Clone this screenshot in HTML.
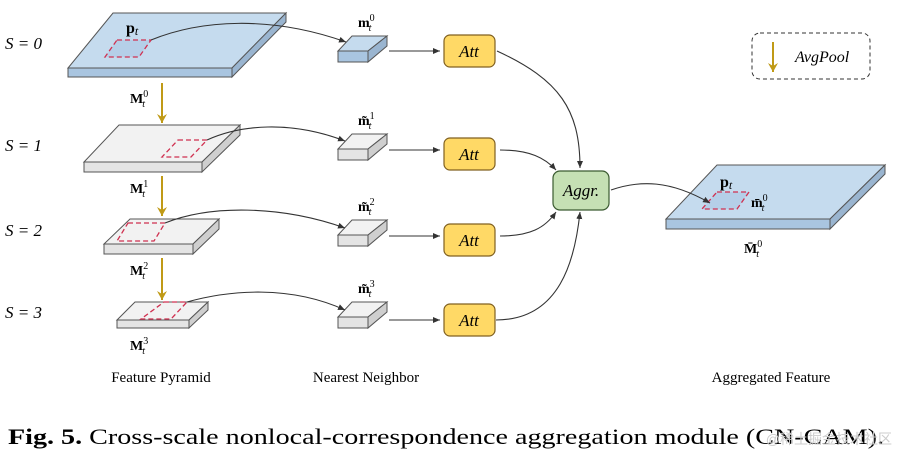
<!DOCTYPE html>
<html><head><meta charset="utf-8"><style>
body{margin:0;background:#fff;}
svg{display:block;font-family:"Liberation Serif","Noto Serif CJK SC",serif;}
.s{font-style:italic;font-size:17px;}
.b{font-weight:bold;font-size:14px;}
.sp{font-size:10px;}
</style></head><body>
<svg width="900" height="455" viewBox="0 0 900 455" xmlns="http://www.w3.org/2000/svg">
<defs>
<marker id="a" markerWidth="8" markerHeight="8" refX="7" refY="4" orient="auto" markerUnits="userSpaceOnUse"><path d="M0,1 L7,4 L0,7 Z" fill="#333"/></marker>
<marker id="g" markerWidth="10" markerHeight="10" refX="9" refY="5" orient="auto" markerUnits="userSpaceOnUse"><path d="M0,0 L9,5 L0,10 L3,5Z" fill="#c09a16"/></marker>
</defs>
<g stroke="#555" stroke-width="1">
<polygon points="113,13 286,13 232,68 68,68" fill="#c5dbee"/>
<rect x="68" y="68" width="164" height="9" fill="#a9c5e0"/>
<polygon points="232,68 286,13 286,22 232,77" fill="#9ab5d0"/>
<polygon points="119,125 240,125 202,162 84,162" fill="#f2f2f2"/>
<rect x="84" y="162" width="118" height="10" fill="#e4e4e4"/>
<polygon points="202,162 240,125 240,135 202,172" fill="#cfcfcf"/>
<polygon points="130,219 219,219 193,244 104,244" fill="#f2f2f2"/>
<rect x="104" y="244" width="89" height="10" fill="#e4e4e4"/>
<polygon points="193,244 219,219 219,229 193,254" fill="#cfcfcf"/>
<polygon points="135,302 208,302 189,320 117,320" fill="#f2f2f2"/>
<rect x="117" y="320" width="72" height="8" fill="#e4e4e4"/>
<polygon points="189,320 208,302 208,310 189,328" fill="#cfcfcf"/>
<polygon points="717,165 885,165 830,219 666,219" fill="#c5dbee"/>
<rect x="666" y="219" width="164" height="10" fill="#a9c5e0"/>
<polygon points="830,219 885,165 885,174 830,229" fill="#9ab5d0"/>
</g>
<g stroke="#555" stroke-width="1">
<g><polygon points="352,36 387,36 368,51 338,51" fill="#c5dbee"/><rect x="338" y="51" width="30" height="11" fill="#a9c5e0"/><polygon points="368,51 387,36 387,46 368,62" fill="#9ab5d0"/></g>
<g transform="translate(0,98)"><polygon points="352,36 387,36 368,51 338,51" fill="#f2f2f2"/><rect x="338" y="51" width="30" height="11" fill="#e4e4e4"/><polygon points="368,51 387,36 387,46 368,62" fill="#cfcfcf"/></g>
<g transform="translate(0,184)"><polygon points="352,36 387,36 368,51 338,51" fill="#f2f2f2"/><rect x="338" y="51" width="30" height="11" fill="#e4e4e4"/><polygon points="368,51 387,36 387,46 368,62" fill="#cfcfcf"/></g>
<g transform="translate(0,266)"><polygon points="352,36 387,36 368,51 338,51" fill="#f2f2f2"/><rect x="338" y="51" width="30" height="11" fill="#e4e4e4"/><polygon points="368,51 387,36 387,46 368,62" fill="#cfcfcf"/></g>
</g>
<g fill="none" stroke="#d03050" stroke-width="1.3" stroke-dasharray="5,3">
<polygon points="117,40 151,40 139,57 105,57" fill="#b5cfe8"/>
<polygon points="178,140 207,140 191,157 162,157"/>
<polygon points="128,223 165,223 154,241 117,241"/>
<polygon points="164,302 187,302 171,319 141,319"/>
<polygon points="717,192 749,192 737,209 702,209" fill="#b5cfe8"/>
</g>
<g fill="none" stroke="#333" stroke-width="1.1" marker-end="url(#a)">
<path d="M151,40 C200,20 270,15 346,42"/>
<path d="M207,140 C240,125 290,120 345,141"/>
<path d="M165,223 C210,205 280,205 345,228"/>
<path d="M187,302 C230,290 290,285 345,310"/>
<path d="M389,51 L440,51"/><path d="M389,150 L440,150"/><path d="M389,236 L440,236"/><path d="M389,320 L440,320"/>
<path d="M497,51 C560,80 580,110 580,168"/>
<path d="M500,150 C530,150 545,158 556,170"/>
<path d="M500,236 C530,236 545,228 556,212"/>
<path d="M496,320 C560,320 575,260 580,212"/>
<path d="M611,190 C640,180 670,180 710,203"/>
</g>
<g stroke="#c09a16" stroke-width="2" marker-end="url(#g)">
<line x1="162" y1="83" x2="162" y2="123"/><line x1="162" y1="176" x2="162" y2="216"/><line x1="162" y1="258" x2="162" y2="300"/>
<line x1="773" y1="42" x2="773" y2="72"/>
</g>
<g fill="#ffd966" stroke="#806020" stroke-width="1.2">
<rect x="444" y="35" width="51" height="32" rx="6"/><rect x="444" y="138" width="51" height="32" rx="6"/><rect x="444" y="224" width="51" height="32" rx="6"/><rect x="444" y="304" width="51" height="32" rx="6"/>
</g>
<rect x="553" y="171" width="56" height="39" rx="7" fill="#c5e0b4" stroke="#3a5a30" stroke-width="1.2"/>
<rect x="752" y="33" width="118" height="46" rx="8" fill="none" stroke="#333" stroke-dasharray="4,3"/>
<g class="s" text-anchor="middle">
<text x="469" y="57">Att</text><text x="469" y="160">Att</text><text x="469" y="246">Att</text><text x="469" y="326">Att</text>
<text x="581" y="196">Aggr.</text>
</g>
<text x="795" y="62" font-style="italic" font-size="16">AvgPool</text>
<g class="s"><text x="5" y="49">S = 0</text><text x="5" y="151">S = 1</text><text x="5" y="236">S = 2</text><text x="5" y="318">S = 3</text></g>
<g class="b">
<text x="126" y="33" font-size="16">p<tspan font-style="italic" font-weight="normal" font-size="12" dy="2">t</tspan></text>
<text x="720" y="187" font-size="16">p<tspan font-style="italic" font-weight="normal" font-size="12" dy="2">t</tspan></text>
<text x="130" y="103">M<tspan class="sp" font-weight="normal" dy="-6">0</tspan><tspan class="sp" font-style="italic" font-weight="normal" dx="-6" dy="10">t</tspan></text>
<text x="130" y="193">M<tspan class="sp" font-weight="normal" dy="-6">1</tspan><tspan class="sp" font-style="italic" font-weight="normal" dx="-6" dy="10">t</tspan></text>
<text x="130" y="275">M<tspan class="sp" font-weight="normal" dy="-6">2</tspan><tspan class="sp" font-style="italic" font-weight="normal" dx="-6" dy="10">t</tspan></text>
<text x="130" y="350">M<tspan class="sp" font-weight="normal" dy="-6">3</tspan><tspan class="sp" font-style="italic" font-weight="normal" dx="-6" dy="10">t</tspan></text>
<text x="358" y="27">m<tspan class="sp" font-weight="normal" dy="-6">0</tspan><tspan class="sp" font-style="italic" font-weight="normal" dx="-6" dy="10">t</tspan></text>
<text x="358" y="125">m̃<tspan class="sp" font-weight="normal" dy="-6">1</tspan><tspan class="sp" font-style="italic" font-weight="normal" dx="-6" dy="10">t</tspan></text>
<text x="358" y="211">m̃<tspan class="sp" font-weight="normal" dy="-6">2</tspan><tspan class="sp" font-style="italic" font-weight="normal" dx="-6" dy="10">t</tspan></text>
<text x="358" y="293">m̃<tspan class="sp" font-weight="normal" dy="-6">3</tspan><tspan class="sp" font-style="italic" font-weight="normal" dx="-6" dy="10">t</tspan></text>
<text x="751" y="207">m̄<tspan class="sp" font-weight="normal" dy="-6">0</tspan><tspan class="sp" font-style="italic" font-weight="normal" dx="-6" dy="10">t</tspan></text>
<text x="744" y="253">M̄<tspan class="sp" font-weight="normal" dy="-6">0</tspan><tspan class="sp" font-style="italic" font-weight="normal" dx="-6" dy="10">t</tspan></text>
</g>
<g font-size="15" text-anchor="middle"><text x="161" y="382">Feature Pyramid</text><text x="366" y="382">Nearest Neighbor</text><text x="771" y="382">Aggregated Feature</text></g>
<text x="8" y="444" font-size="22" textLength="876" lengthAdjust="spacingAndGlyphs"><tspan font-weight="bold">Fig. 5.</tspan> Cross-scale nonlocal-correspondence aggregation module (CN-CAM).</text>
<text x="892" y="444" text-anchor="end" font-size="14" fill="#ccc" font-family="Liberation Sans,Noto Sans CJK SC,sans-serif">@稀土掘金技术社区</text>
</svg>
</body></html>
